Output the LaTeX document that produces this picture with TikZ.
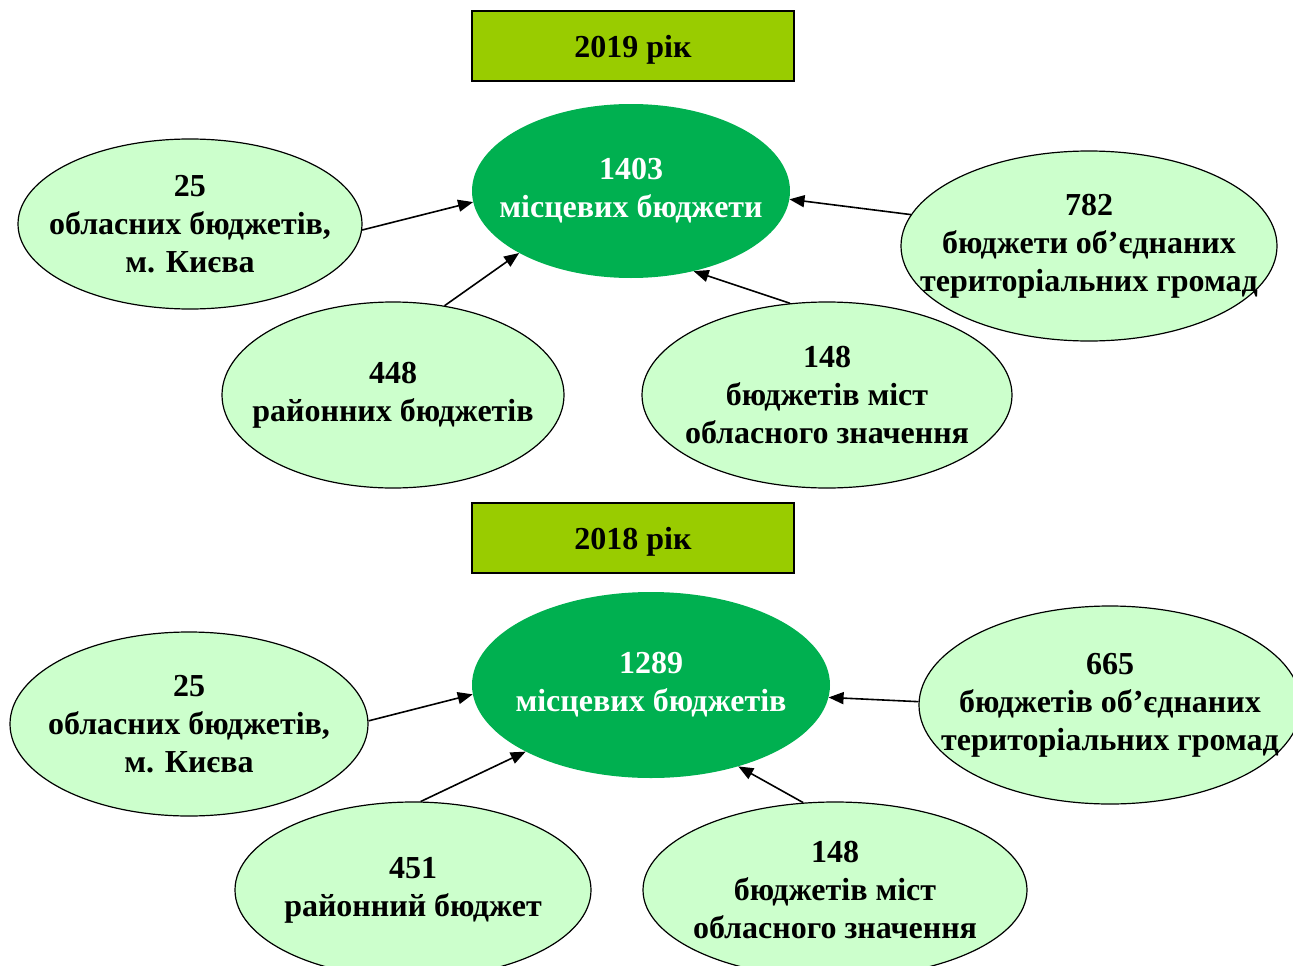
\documentclass[tikz,border=0pt]{standalone}
\usepackage{fontspec}
\setmainfont{Liberation Serif}
\usepackage{tikz}
\usetikzlibrary{arrows.meta,shapes.geometric}
\definecolor{lightgrn}{HTML}{CCFFCC}
\definecolor{darkgrn}{HTML}{00B050}
\definecolor{yeargrn}{HTML}{99CC00}

\begin{document}
\begin{tikzpicture}[x=1pt,y=-1pt,
  budget/.style={ellipse,draw,fill=lightgrn,line width=1.2pt,inner sep=-60pt,align=center,font=\fontsize{32}{38}\selectfont\bfseries},
  total/.style={ellipse,fill=darkgrn,inner sep=-60pt,align=center,text=white,font=\fontsize{32}{38}\selectfont\bfseries},
  yearbox/.style={rectangle,draw,fill=yeargrn,line width=1.2pt,minimum width=322pt,minimum height=70pt,text depth=0pt,font=\fontsize{32}{34}\selectfont\bfseries},
  feed/.style={-{Triangle[length=15pt,width=12pt]},line width=1.6pt}]
\useasboundingbox (0,0) rectangle (1293,966);
\clip (0,0) rectangle (1293,966);
% 2019
\node[yearbox](y19)at(633,46){2019 рік};
\node[total,minimum width=318pt,minimum height=174pt](t19)at(631,191){1403\\місцевих бюджети};
\node[budget,minimum width=344pt,minimum height=170pt](o19)at(190,224){25\\обласних бюджетів,\\м. Києва};
\node[budget,minimum width=342pt,minimum height=186pt](r19)at(393,395){448\\районних бюджетів};
\node[budget,minimum width=370pt,minimum height=186pt](m19)at(827,395){148\\бюджетів міст\\обласного значення};
\node[budget,minimum width=376pt,minimum height=190pt](g19)at(1089,246){782\\бюджети об’єднаних\\територіальних громад};
\draw[feed](o19.-2)--(t19.184);
\draw[feed](r19.60)--(t19.209);
\draw[feed](m19.112)--(t19.-52);
\draw[feed](g19.170)--(t19.-3);
% 2018
\node[yearbox](y18)at(633,538){2018 рік};
\node[total,minimum width=358pt,minimum height=186pt](t18)at(651,685){1289\\місцевих бюджетів};
\node[budget,minimum width=358pt,minimum height=184pt](o18)at(189,724){25\\обласних бюджетів,\\м. Києва};
\node[budget,minimum width=356pt,minimum height=176pt](r18)at(413,890){451\\районний бюджет};
\node[budget,minimum width=384pt,minimum height=176pt](m18)at(835,890){148\\бюджетів міст\\обласного значення};
\node[budget,minimum width=382pt,minimum height=198pt](g18)at(1110,705){665\\бюджетів об’єднаних\\територіальних громад};
\draw[feed](o18.1)--(t18.183);
\draw[feed](r18.85)--(t18.208);
\draw[feed](m18.110)--(t18.-43);
\draw[feed](g18.179)--(t18.-4);
\end{tikzpicture}
\end{document}
